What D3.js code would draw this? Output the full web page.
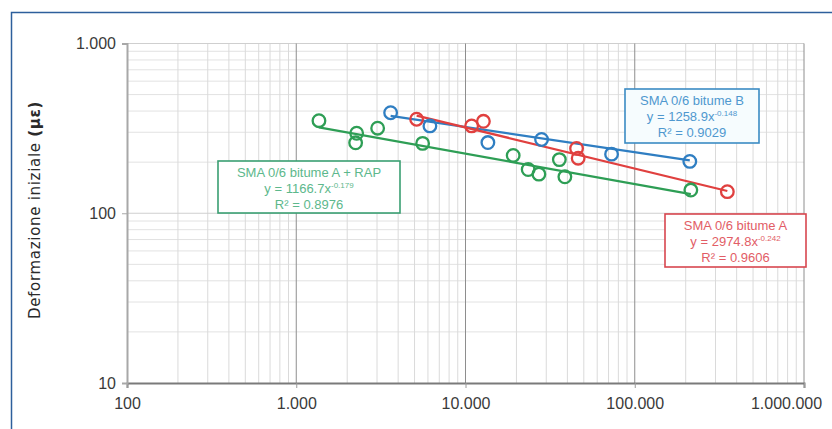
<!DOCTYPE html>
<html>
<head>
<meta charset="utf-8">
<script src="https://cdn.jsdelivr.net/npm/d3@7"></script>
<style>
  html, body { margin: 0; padding: 0; background: #ffffff; }
  svg { display: block; }
</style>
</head>
<body>
<svg id="chart" width="832" height="429"></svg>
<script>
// Axis ticks (log decades)
const xTicks = [100, 1000, 10000, 100000, 1000000];
const yTicks = [10, 100, 1000];

// Series: number of cycles (x) vs initial strain in µε (y)
const seriesNames = ["SMA 0/6 bitume A + RAP", "SMA 0/6 bitume B", "SMA 0/6 bitume A"];
const greenX = [1362, 2275, 2243, 3026, 5580, 19130, 23460, 27140, 35850, 38650, 214500];
const greenY = [351, 296, 260, 317, 258, 219, 181, 170, 207, 164, 137];
const blueX = [3611, 6162, 13560, 28150, 72950, 211500];
const blueY = [391, 327, 261, 272, 223, 202];
const redX = [5143, 10870, 12760, 45310, 46310, 352400];
const redY = [358, 327, 348, 241, 211, 134];

// Power-law trendlines y = a·x^b and their R²
const fitA = [1166.7, 1258.9, 2974.8];
const fitB = [-0.179, -0.148, -0.242];
const fitR2 = ["0.8976", "0.9029", "0.9606"];

const colors = ["#2e9e55", "#2f7ec2", "#e0403f"];
const boxStroke = ["#3a9f72", "#3b8bc4", "#d8464f"];
const boxText = ["#5db88c", "#4f98cf", "#e25d66"];

const itLocale = d3.formatLocale({ decimal: ",", thousands: ".", grouping: [3], currency: ["€", ""] });
const fmt = itLocale.format(",");

const svg = d3.select("#chart");
const x = d3.scaleLog().domain([100, 1e6]).range([127, 804]);
const y = d3.scaleLog().domain([10, 1000]).range([383, 43.5]);

// Outer frame
svg.append("path")
  .attr("d", "M11.5,429 V12.5 H832")
  .attr("fill", "none").attr("stroke", "#2d5f9c").attr("stroke-width", 1.5);

// Grid
const grid = svg.append("g");
const minorX = [];
for (let d = 100; d < 1e6; d *= 10) for (let k = 2; k <= 9; k++) minorX.push(d * k);
const minorY = [];
for (let d = 10; d < 1000; d *= 10) for (let k = 2; k <= 9; k++) minorY.push(d * k);

grid.selectAll("line.hmin").data(minorY).join("line")
  .attr("x1", x(100)).attr("x2", x(1e6))
  .attr("y1", d => y(d)).attr("y2", d => y(d))
  .attr("stroke", "#e2e2e2").attr("stroke-width", 1);
grid.selectAll("line.vmin").data(minorX).join("line")
  .attr("y1", y(1000)).attr("y2", y(10))
  .attr("x1", d => x(d)).attr("x2", d => x(d))
  .attr("stroke", "#dadada").attr("stroke-width", 1);
grid.selectAll("line.hmaj").data(yTicks.slice(1)).join("line")
  .attr("x1", x(100)).attr("x2", x(1e6))
  .attr("y1", d => y(d)).attr("y2", d => y(d))
  .attr("stroke", "#cfcfcf").attr("stroke-width", 1);
grid.selectAll("line.vmaj").data(xTicks.slice(1)).join("line")
  .attr("y1", y(1000)).attr("y2", y(10))
  .attr("x1", d => x(d)).attr("x2", d => x(d))
  .attr("stroke", "#8e8e8e").attr("stroke-width", 1);

// Axes
const xAxis = d3.axisBottom(x).tickValues(xTicks).tickFormat(fmt).tickSize(5).tickPadding(9);
const yAxis = d3.axisLeft(y).tickValues(yTicks).tickFormat(fmt).tickSize(5).tickPadding(6);

const gx = svg.append("g").attr("transform", `translate(0,${y(10)})`).call(xAxis);
gx.select(".domain").attr("stroke", "#7a7a7a").attr("stroke-width", 2);
gx.selectAll(".tick line").attr("stroke", "#9a9a9a");
gx.selectAll("text").attr("font-family", "'Liberation Sans', Arial, sans-serif")
  .attr("font-size", 16).attr("fill", "#3a3a3a").attr("dy", "0.75em");
// keep the last label inside the frame
gx.selectAll(".tick").filter(d => d === 1e6).select("text").attr("dx", -18);

const gy = svg.append("g").attr("transform", `translate(${x(100)},0)`).call(yAxis);
gy.select(".domain").attr("stroke", "#a8a8a8").attr("stroke-width", 2);
gy.selectAll(".tick line").attr("stroke", "#a8a8a8");
gy.selectAll("text").attr("font-family", "'Liberation Sans', Arial, sans-serif")
  .attr("font-size", 16).attr("fill", "#3a3a3a");

// Y axis title
const yt = svg.append("text")
  .attr("transform", "translate(40,210) rotate(-90)")
  .attr("text-anchor", "middle")
  .attr("font-family", "'DejaVu Sans', Verdana, sans-serif")
  .attr("font-size", 15).attr("letter-spacing", 0.7).attr("fill", "#2a2a2a");
yt.append("tspan").text("Deformazione iniziale ");
yt.append("tspan").attr("font-weight", "bold").text("(µε)");

// Trendlines and markers
const seriesX = [greenX, blueX, redX];
const seriesY = [greenY, blueY, redY];
const line = d3.line().x(d => x(d[0])).y(d => y(d[1]));

seriesX.forEach((xs, i) => {
  const [x0, x1] = d3.extent(xs);
  const pts = [x0, x1].map(v => [v, fitA[i] * Math.pow(v, fitB[i])]);
  svg.append("path").datum(pts).attr("d", line)
    .attr("fill", "none").attr("stroke", colors[i]).attr("stroke-width", 2.2);
});

seriesX.forEach((xs, i) => {
  svg.append("g").selectAll("circle").data(xs.map((v, j) => [v, seriesY[i][j]])).join("circle")
    .attr("cx", d => x(d[0])).attr("cy", d => y(d[1])).attr("r", 6.3)
    .attr("fill", "none").attr("stroke", colors[i]).attr("stroke-width", 2.3);
});

// Trendline labels
const boxes = [
  { x0: 218, y0: 161, x1: 400, y1: 213 },
  { x0: 625, y0: 89, x1: 759, y1: 143 },
  { x0: 665, y0: 214, x1: 806, y1: 267 }
];
boxes.forEach((b, i) => {
  const g = svg.append("g");
  g.append("rect")
    .attr("x", b.x0).attr("y", b.y0).attr("width", b.x1 - b.x0).attr("height", b.y1 - b.y0)
    .attr("fill", i === 1 ? "#f6fcfe" : "#ffffff")
    .attr("stroke", boxStroke[i]).attr("stroke-width", 1.6);
  const cx = (b.x0 + b.x1) / 2;
  const t = g.append("text").attr("text-anchor", "middle")
    .attr("font-family", "'Liberation Sans', Arial, sans-serif")
    .attr("font-size", 13).attr("fill", boxText[i]);
  t.append("tspan").attr("x", cx).attr("y", b.y0 + 15.5).text(seriesNames[i]);
  const l2 = t.append("tspan").attr("x", cx).attr("y", b.y0 + 31.5);
  l2.text(`y = ${fitA[i].toFixed(1)}x`);
  t.append("tspan").attr("dy", -4.5).attr("font-size", 8).text(fitB[i].toFixed(3));
  t.append("tspan").attr("x", cx).attr("y", b.y0 + 47.5).text(`R² = ${fitR2[i]}`);
});
</script>
</body>
</html>
